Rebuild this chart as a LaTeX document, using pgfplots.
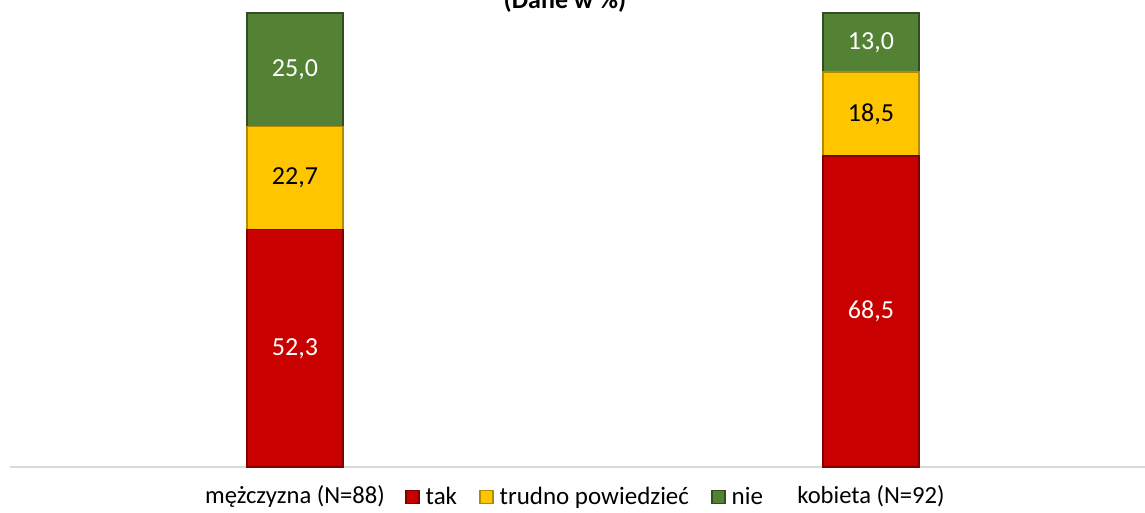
\documentclass[border=0pt]{standalone}
\usepackage{pgfplots}
\pgfplotsset{compat=1.18}
\usepackage{fontspec}
\setmainfont{Carlito}

\definecolor{cTak}{HTML}{C80000}
\definecolor{cTrud}{HTML}{FFC600}
\definecolor{cNie}{HTML}{548235}

\begin{document}
\begin{tikzpicture}
  \begin{axis}[
    at={(0,0)}, anchor=south west,
    scale only axis, clip=false,
    width=567.5pt, height=227pt,
    ybar stacked, bar width=48pt,
    xmin=-0.4948, xmax=1.4757,
    ymin=0, ymax=100,
    axis x line*=bottom, axis y line=none,
    x axis line style={-, draw=black!15, line width=1pt},
    xtick={0,1},
    xticklabels={mężczyzna (N=88), kobieta (N=92)},
    major tick length=0pt,
    xticklabel style={font=\fontsize{12.3}{14}\selectfont, anchor=base, yshift=-18.5pt},
    nodes near coords,
    point meta=rawy,
    every node near coord/.append style={
      font=\fontsize{13}{15}\selectfont, anchor=center},
    /pgf/number format/.cd, fixed, fixed zerofill, precision=1, use comma,
      assume math mode=true,
    /pgfplots/.cd,
    legend style={at={(0.5075,0)}, anchor=center, yshift=-15pt, draw=none, fill=none,
      font=\fontsize{12.5}{14}\selectfont, legend columns=-1,
      /tikz/every odd column/.append style={column sep=1pt},
      /tikz/every even column/.append style={column sep=9pt}},
    legend image code/.code={\fill[#1] (0pt,-3.2pt) rectangle (6.5pt,3.3pt);},
  ]
    \addplot[fill=cTak, draw=cTak!65!black, line width=0.8pt,
      every node near coord/.append style={text=white}]
      coordinates {(0,52.3) (1,68.5)};
    \addplot[fill=cTrud, draw=cTrud!70!black, line width=0.8pt,
      every node near coord/.append style={text=black}]
      coordinates {(0,22.7) (1,18.5)};
    \addplot[fill=cNie, draw=cNie!60!black, line width=0.8pt,
      every node near coord/.append style={text=white}]
      coordinates {(0,25.0) (1,13.0)};
    \legend{tak, trudno powiedzieć, nie}
    \node[font=\bfseries\fontsize{13}{15}\selectfont, anchor=base]
      at (rel axis cs:0.489,1) [yshift=2pt] {(Dane w \%)};
  \end{axis}
  \pgfresetboundingbox
  \useasboundingbox (-5pt,-23pt) rectangle (567.5pt,233.5pt);
\end{tikzpicture}
\end{document}
